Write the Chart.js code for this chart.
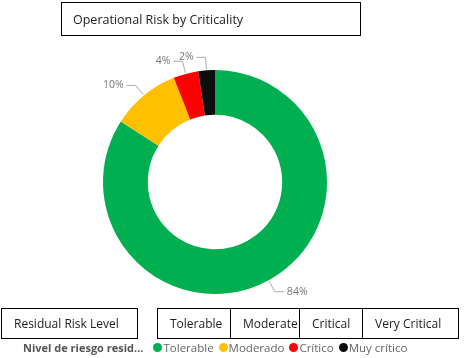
<!DOCTYPE html>
<html><head><meta charset="utf-8">
<script src="https://cdn.jsdelivr.net/npm/chart.js@4.4.1/dist/chart.umd.min.js"></script>
<style>
html,body{margin:0;padding:0;background:#fff;}
body{width:468px;height:358px;position:relative;overflow:hidden;font-family:"Open Sans","Segoe UI",sans-serif;}
#wrap{position:absolute;left:0;top:0;width:468px;height:358px;}
.box{position:absolute;border:1px solid #000;box-sizing:border-box;color:#222;white-space:nowrap;overflow:hidden;display:flex;align-items:center;}
#title{left:61px;top:2px;width:300px;height:34px;font-size:12.5px;padding-left:11px;}
.bb{top:308px;height:31px;font-size:12px;padding-left:12px;}
#legend{position:absolute;left:23px;top:339px;font-size:11.5px;color:#666;white-space:nowrap;display:flex;align-items:center;height:17px;}
#legend b{color:#555;margin-right:10px;font-size:11px;}
#legend .it{display:flex;align-items:center;margin-right:5px;}
#legend .dot{width:9px;height:9px;border-radius:50%;display:inline-block;margin-right:1px;}
</style></head>
<body>
<div id="wrap"><canvas id="c" width="468" height="358"></canvas></div>
<div class="box" id="title">Operational Risk by Criticality</div>
<div class="box bb" style="left:1px;width:137px;">Residual Risk Level</div>
<div class="box bb" style="left:157px;width:74px;">Tolerable</div>
<div class="box bb" style="left:230px;width:70px;">Moderate</div>
<div class="box bb" style="left:299px;width:64px;">Critical</div>
<div class="box bb" style="left:362px;width:97px;">Very Critical</div>
<div id="legend"></div>
<script>
const categories = ["Tolerable", "Moderado", "Crítico", "Muy crítico"];
const values = [84.1, 9.9, 3.6, 2.4];
const percentLabels = ["84%", "10%", "4%", "2%"];
const colors = ["#00B050", "#FFC000", "#FF0000", "#0D0D0D"];
const legendTitle = "Nivel de riesgo resid...";

// HTML legend
const lg = document.getElementById('legend');
lg.innerHTML = '<b>' + legendTitle + '</b>' + categories.map((c,i)=>
  '<span class="it"><span class="dot" style="background:'+colors[i]+'"></span>'+c+'</span>').join('');

const leaderPlugin = {
  id: 'leaders',
  afterDatasetsDraw(chart) {
    const ctx = chart.ctx;
    const meta = chart.getDatasetMeta(0);
    ctx.save();
    ctx.strokeStyle = '#aaa';
    ctx.lineWidth = 1;
    ctx.fillStyle = '#777';
    ctx.font = '10.5px "Open Sans", sans-serif';
    ctx.textBaseline = 'middle';
    meta.data.forEach((arc, i) => {
      const p = arc.getProps(['x','y','startAngle','endAngle','outerRadius'], true);
      const mid = (p.startAngle + p.endAngle) / 2;
      const r1 = p.outerRadius + 1, r2 = p.outerRadius + 13;
      const x1 = p.x + Math.cos(mid) * r1, y1 = p.y + Math.sin(mid) * r1;
      const x2 = p.x + Math.cos(mid) * r2, y2 = p.y + Math.sin(mid) * r2;
      const dir = Math.cos(mid) >= 0 ? 1 : -1;
      const x3 = x2 + dir * 9;
      ctx.beginPath();
      ctx.moveTo(x1, y1); ctx.lineTo(x2, y2); ctx.lineTo(x3, y2);
      ctx.stroke();
      ctx.textAlign = dir > 0 ? 'left' : 'right';
      ctx.fillText(percentLabels[i], x3 + dir * 3, y2);
    });
    ctx.restore();
  }
};

new Chart(document.getElementById('c'), {
  type: 'doughnut',
  data: {
    labels: categories,
    datasets: [{ data: values, backgroundColor: colors, borderWidth: 0, hoverOffset: 0, offset: 0 }]
  },
  options: {
    responsive: false,
    animation: false,
    cutout: '60%',
    layout: { padding: { left: 103, top: 70, right: 141, bottom: 64 } },
    plugins: { legend: { display: false }, tooltip: { enabled: false } }
  },
  plugins: [leaderPlugin]
});
</script>
</body></html>
